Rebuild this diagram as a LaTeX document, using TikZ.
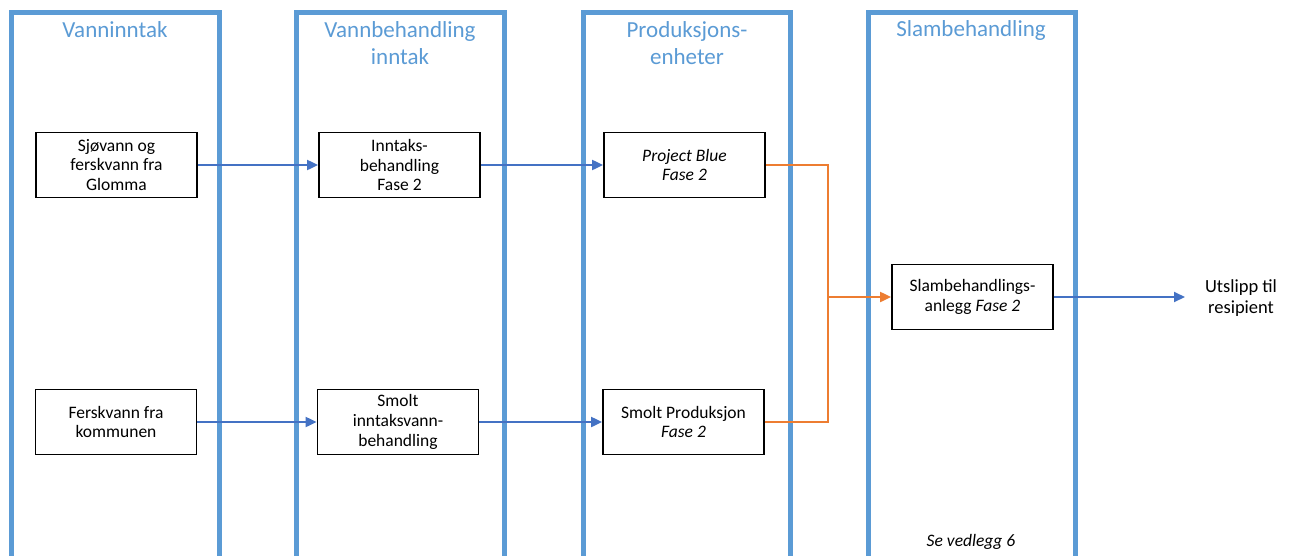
\documentclass[tikz,border=0pt]{standalone}
\usepackage{fontspec}
\setmainfont{Carlito}
\usetikzlibrary{arrows.meta}
\definecolor{colblue}{HTML}{5B9BD5}
\definecolor{arrblue}{HTML}{4472C4}
\definecolor{arrorange}{HTML}{ED7D31}
\begin{document}
\begin{tikzpicture}[x=1pt,y=-1pt,
  lane/.style={draw=colblue,line width=5pt,line join=miter},
  head/.style={text=colblue,font=\fontsize{23}{27}\selectfont,align=center,inner sep=0pt},
  procbox/.style={draw=black,line width=1.8pt,minimum width=161pt,minimum height=65pt,align=center,inner sep=2pt,font=\fontsize{17.5}{19.8}\selectfont},
  flow/.style={draw=arrblue,line width=2pt,-{Triangle[length=11pt,width=10pt]}},
  oflow/.style={draw=arrorange,line width=2pt},
  plain/.style={align=center,inner sep=0pt,font=\fontsize{18.5}{21}\selectfont}]
\useasboundingbox (0,0) rectangle (1296,555);
\fill[white] (0,0) rectangle (1296,555);
% lanes
\draw[lane] (11,570) -- (11,12) -- (219,12) -- (219,570);
\draw[lane] (296,570) -- (296,12) -- (504,12) -- (504,570);
\draw[lane] (583,570) -- (583,12) -- (790,12) -- (790,570);
\draw[lane] (868,570) -- (868,12) -- (1075,12) -- (1075,570);
% headers
\node[head] (h1) at (115,30) {Vanninntak};
\node[head] (h2) at (400,43.5) {Vannbehandling\\inntak};
\node[head] (h3) at (687,43.5) {Produksjons-\\enheter};
\node[head] (h4) at (971,30) {Slambehandling};
% boxes
\node[procbox] (b1) at (116.5,165) {Sjøvann og\\ferskvann fra\\Glomma};
\node[procbox] (b2) at (399.5,165) {Inntaks-\\behandling\\Fase 2};
\node[procbox] (b3) at (684.5,165) {\textit{Project Blue}\\\textit{Fase 2}};
\node[procbox] (b4) at (972.5,297) {Slambehandlings-\\anlegg \textit{Fase 2}};
\node[procbox] (b5) at (116,422) {Ferskvann fra\\kommunen};
\node[procbox] (b6) at (398,422) {Smolt\\inntaksvann-\\behandling};
\node[procbox] (b7) at (683.5,422) {Smolt Produksjon\\\textit{Fase 2}};
% notes
\node[plain] (ut) at (1241,298) {Utslipp til\\resipient};
\node[plain,font=\fontsize{17.5}{19.5}\selectfont\itshape] (se) at (971,542) {Se vedlegg 6};
\coordinate (utin) at (1185,297);
\coordinate (j) at (828,297);
% connectors
\draw[flow] (b1.east) -- (b2.west);
\draw[flow] (b2.east) -- (b3.west);
\draw[flow] (b5.east) -- (b6.west);
\draw[flow] (b6.east) -- (b7.west);
\draw[oflow] (b3.east) -| (j);
\draw[oflow] (b7.east) -| (j);
\draw[oflow,-{Triangle[length=11pt,width=10pt]}] (j) -- (b4.west);
\draw[flow] (b4.east) -- (utin);
\end{tikzpicture}
\end{document}
